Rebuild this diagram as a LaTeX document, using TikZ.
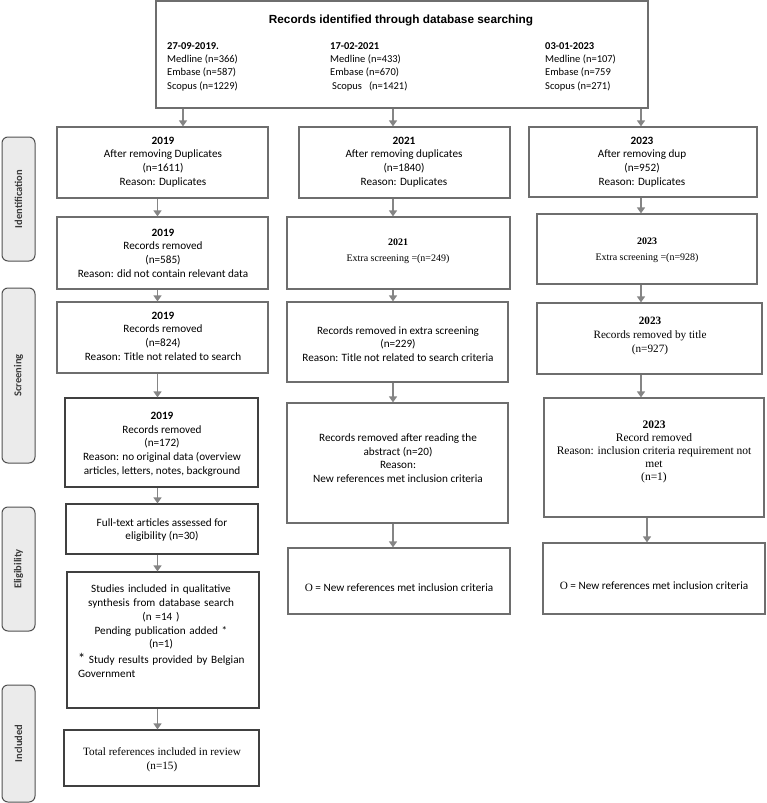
\documentclass[tikz,border=0pt]{standalone}
\usepackage{fontspec}
\setmainfont{Carlito}
\newfontfamily\tnr{Liberation Serif}
\newfontfamily\arial{Liberation Sans}
\usetikzlibrary{arrows.meta,fit}
\definecolor{boxgray}{HTML}{6E6E6E}
\definecolor{arrgray}{HTML}{858585}
\definecolor{sidefill}{HTML}{EBEBEB}
\definecolor{sidedraw}{HTML}{505050}
\definecolor{sidetext}{HTML}{3A3A3A}
\tikzset{
  box/.style={draw=boxgray, line width=1.2pt, fill=white, inner sep=0pt},
  dbox/.style={draw=black!75, line width=1.2pt, fill=white, inner sep=0pt},
  arr/.style={draw=arrgray, line width=1.4pt, -{Triangle[length=6pt,width=8pt]}},
  side/.style={draw=sidedraw, line width=1pt, fill=sidefill, rounded corners=6pt, inner sep=0pt},
  sidelbl/.style={rotate=90, font=\fontsize{10.5}{12}\selectfont\bfseries, text=sidetext, inner sep=0pt},
  txt/.style={align=center, font=\fontsize{11.2}{13.7}\selectfont, inner sep=0pt},
  ttxt/.style={align=center, font=\tnr\fontsize{11.2}{13.7}\selectfont, inner sep=0pt},
  tstxt/.style={align=center, font=\tnr\fontsize{10}{16}\selectfont, inner sep=0pt},
  toptxt/.style={align=left, anchor=west, font=\fontsize{10.5}{13.3}\selectfont, inner sep=0pt}
}
\begin{document}
\begin{tikzpicture}[x=1pt,y=-1pt]
\useasboundingbox (0,0) rectangle (766,803);
% side labels
\node[side, fit={(2,137) (35,261)}] (s1) {};
\node[sidelbl] (s1t) at (s1.center) {Identification};
\node[side, fit={(2,288) (35,463)}] (s2) {};
\node[sidelbl] (s2t) at (s2.center) {Screening};
\node[side, fit={(2,507) (35,631)}] (s3) {};
\node[sidelbl] (s3t) at (s3.center) {Eligibility};
\node[side, fit={(2,685) (35,802)}] (s4) {};
\node[sidelbl] (s4t) at (s4.center) {Included};

% top box
\node[box, fit={(156,1) (648,108)}] (top) {};
\node[inner sep=0pt, font=\arial\bfseries\fontsize{11.8}{13}\selectfont] (title) at (401,20) {Records identified through database searching};
\node[toptxt] (c1) at (167,66.5) {\textbf{27-09-2019.}\\Medline (n=366)\\Embase (n=587)\\Scopus (n=1229)};
\node[toptxt] (c2) at (330,66.5) {\textbf{17-02-2021}\\Medline (n=433)\\Embase (n=670)\\\hspace*{2pt}Scopus\hspace{7pt}(n=1421)};
\node[toptxt] (c3) at (545,66.5) {\textbf{03-01-2023}\\Medline (n=107)\\Embase (n=759\\Scopus (n=271)};

% left column
\node[box, fit={(57,127) (268,198)}] (b1) {};
\node[txt] (b1t) at (163,162) {\textbf{2019}\\After removing Duplicates\\(n=1611)\\Reason: Duplicates};
\node[box, fit={(57,217) (268,289)}] (b2) {};
\node[txt] (b2t) at (163,253) {\textbf{2019}\\Records removed\\(n=585)\\Reason: did not contain relevant data};
\node[box, fit={(57,302) (268,373)}] (b3) {};
\node[txt] (b3t) at (163,336) {\textbf{2019}\\Records removed\\(n=824)\\Reason: Title not related to search};
\node[dbox, fit={(65,398) (258,487)}] (b4) {};
\node[txt] (b4t) at (162,444) {\textbf{2019}\\Records removed\\(n=172)\\Reason: no original data (overview\\articles, letters, notes, background};
\node[dbox, fit={(66,504) (258,554)}] (b5) {};
\node[txt] (b5t) at (162,530) {Full-text articles assessed for\\eligibility (n=30)};
\node[dbox, fit={(67,572) (259,708)}] (b6) {};
\node[txt, align=left, text width=166pt, anchor=north] (b6t) at (161,585) {\centering Studies included in qualitative\\synthesis from database search\\(n =14 )\\Pending publication added *\\(n=1)\par\raggedright\vspace{2pt}\mbox{{\Large *} Study results provided by Belgian}\\Government\par};
\node[dbox, fit={(64,730) (259,786)}] (b7) {};
\node[ttxt] (b7t) at (162,760) {Total references included in review\\(n=15)};

% middle column
\node[box, fit={(299,127) (510,198)}] (m1) {};
\node[txt] (m1t) at (404,162) {\textbf{2021}\\After removing duplicates\\(n=1840)\\Reason: Duplicates};
\node[box, fit={(287,217) (510,289)}] (m2) {};
\node[tstxt] (m2t) at (398,251) {\textbf{2021}\\Extra screening =(n=249)};
\node[box, fit={(287,302) (508,382)}] (m3) {};
\node[txt] (m3t) at (398,344) {Records removed in extra screening\\(n=229)\\Reason: Title not related to search criteria};
\node[box, fit={(287,403) (508,523)}] (m4) {};
\node[txt] (m4t) at (398,458) {Records removed after reading the\\abstract (n=20)\\Reason:\\New references met inclusion criteria};
\node[box, fit={(288,548) (510,614)}] (m5) {};
\node[txt] (m5t) at (399,588) {{\tnr O} = New references met inclusion criteria};

% right column
\node[box, fit={(529,127) (757,197)}] (r1) {};
\node[txt] (r1t) at (642,162) {\textbf{2023}\\After removing dup\\(n=952)\\Reason: Duplicates};
\node[box, fit={(537,214) (757,284)}] (r2) {};
\node[tstxt] (r2t) at (647,250) {\textbf{2023}\\Extra screening =(n=928)};
\node[box, fit={(537,303) (762,374)}] (r3) {};
\node[ttxt] (r3t) at (650,336) {\textbf{2023}\\Records removed by title\\(n=927)};
\node[box, fit={(544,398) (764,517)}] (r4) {};
\node[ttxt, font=\tnr\fontsize{11.5}{13}\selectfont] (r4t) at (654,452) {\textbf{2023}\\Record removed\\Reason: inclusion criteria requirement not\\met\\(n=1)};
\node[box, fit={(543,543) (765,614)}] (r5) {};
\node[txt] (r5t) at (654,586) {{\tnr O} = New references met inclusion criteria};

% arrow x positions
\coordinate (xa) at (183,0);
\coordinate (xl) at (157.5,0);
\coordinate (xm) at (393,0);
\coordinate (xr) at (641,0);
\coordinate (xr2) at (647,0);

\draw[arr] (top.south -| xa) -- (b1.north -| xa);
\draw[arr] (top.south -| xm) -- (m1.north -| xm);
\draw[arr] (top.south -| xr) -- (r1.north -| xr);

\draw[arr] (b1.south -| xl) -- (b2.north -| xl);
\draw[arr] (b2.south -| xl) -- (b3.north -| xl);
\draw[arr] (b3.south -| xl) -- (b4.north -| xl);
\draw[arr] (b4.south -| xl) -- (b5.north -| xl);
\draw[arr] (b5.south -| xl) -- (b6.north -| xl);
\draw[arr] (b6.south -| xl) -- (b7.north -| xl);

\draw[arr] (m1.south -| xm) -- (m2.north -| xm);
\draw[arr] (m2.south -| xm) -- (m3.north -| xm);
\draw[arr] (m3.south -| xm) -- (m4.north -| xm);
\draw[arr] (m4.south -| xm) -- (m5.north -| xm);

\draw[arr] (r1.south -| xr) -- (r2.north -| xr);
\draw[arr] (r2.south -| xr) -- (r3.north -| xr);
\draw[arr] (r3.south -| xr) -- (r4.north -| xr);
\draw[arr] (r4.south -| xr2) -- (r5.north -| xr2);
\end{tikzpicture}
\end{document}
